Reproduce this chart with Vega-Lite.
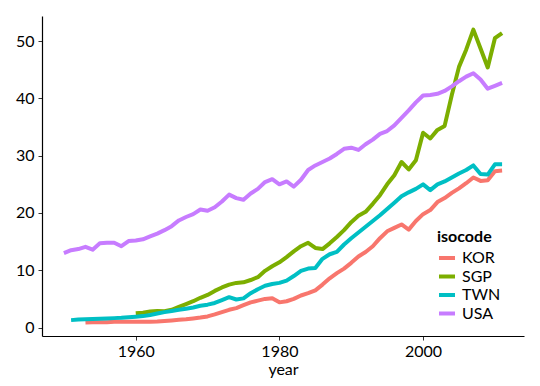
{
  "$schema": "https://vega.github.io/schema/vega-lite/v6.json",
  "width": 482,
  "height": 320,
  "autosize": {"type": "none"},
  "padding": {"left": 42, "top": 16, "right": 16, "bottom": 50},
  "config": {
    "font": "Lato",
    "view": {"stroke": null},
    "axis": {"grid": false, "domainColor": "#000000", "domainWidth": 1.2, "tickColor": "#333333", "tickSize": 4, "labelFontSize": 16, "labelColor": "#000000", "titleFontSize": 16, "titleFontWeight": "normal", "titleColor": "#000000"}
  },
  "datasets": {
    "gdp": [
      {"isocode":"KOR","year":1953,"value":0.9},{"isocode":"KOR","year":1954,"value":0.95},{"isocode":"KOR","year":1955,"value":0.95},{"isocode":"KOR","year":1956,"value":0.95},{"isocode":"KOR","year":1957,"value":1.0},{"isocode":"KOR","year":1958,"value":1.0},{"isocode":"KOR","year":1959,"value":1.0},{"isocode":"KOR","year":1960,"value":1.0},{"isocode":"KOR","year":1961,"value":1.0},{"isocode":"KOR","year":1962,"value":1.0},{"isocode":"KOR","year":1963,"value":1.05},{"isocode":"KOR","year":1964,"value":1.15},{"isocode":"KOR","year":1965,"value":1.25},{"isocode":"KOR","year":1966,"value":1.35},{"isocode":"KOR","year":1967,"value":1.45},{"isocode":"KOR","year":1968,"value":1.6},{"isocode":"KOR","year":1969,"value":1.75},{"isocode":"KOR","year":1970,"value":1.95},{"isocode":"KOR","year":1971,"value":2.3},{"isocode":"KOR","year":1972,"value":2.7},{"isocode":"KOR","year":1973,"value":3.1},{"isocode":"KOR","year":1974,"value":3.4},{"isocode":"KOR","year":1975,"value":3.9},{"isocode":"KOR","year":1976,"value":4.4},{"isocode":"KOR","year":1977,"value":4.7},{"isocode":"KOR","year":1978,"value":5.0},{"isocode":"KOR","year":1979,"value":5.1},{"isocode":"KOR","year":1980,"value":4.4},{"isocode":"KOR","year":1981,"value":4.6},{"isocode":"KOR","year":1982,"value":5.0},{"isocode":"KOR","year":1983,"value":5.6},{"isocode":"KOR","year":1984,"value":6.0},{"isocode":"KOR","year":1985,"value":6.5},{"isocode":"KOR","year":1986,"value":7.5},{"isocode":"KOR","year":1987,"value":8.6},{"isocode":"KOR","year":1988,"value":9.5},{"isocode":"KOR","year":1989,"value":10.3},{"isocode":"KOR","year":1990,"value":11.3},{"isocode":"KOR","year":1991,"value":12.4},{"isocode":"KOR","year":1992,"value":13.2},{"isocode":"KOR","year":1993,"value":14.2},{"isocode":"KOR","year":1994,"value":15.6},{"isocode":"KOR","year":1995,"value":16.8},{"isocode":"KOR","year":1996,"value":17.4},{"isocode":"KOR","year":1997,"value":18.0},{"isocode":"KOR","year":1998,"value":17.1},{"isocode":"KOR","year":1999,"value":18.6},{"isocode":"KOR","year":2000,"value":19.8},{"isocode":"KOR","year":2001,"value":20.5},{"isocode":"KOR","year":2002,"value":21.9},{"isocode":"KOR","year":2003,"value":22.6},{"isocode":"KOR","year":2004,"value":23.5},{"isocode":"KOR","year":2005,"value":24.3},{"isocode":"KOR","year":2006,"value":25.2},{"isocode":"KOR","year":2007,"value":26.2},{"isocode":"KOR","year":2008,"value":25.6},{"isocode":"KOR","year":2009,"value":25.7},{"isocode":"KOR","year":2010,"value":27.3},{"isocode":"KOR","year":2011,"value":27.4},
      {"isocode":"SGP","year":1960,"value":2.5},{"isocode":"SGP","year":1961,"value":2.6},{"isocode":"SGP","year":1962,"value":2.8},{"isocode":"SGP","year":1963,"value":2.9},{"isocode":"SGP","year":1964,"value":2.85},{"isocode":"SGP","year":1965,"value":3.1},{"isocode":"SGP","year":1966,"value":3.6},{"isocode":"SGP","year":1967,"value":4.1},{"isocode":"SGP","year":1968,"value":4.6},{"isocode":"SGP","year":1969,"value":5.2},{"isocode":"SGP","year":1970,"value":5.7},{"isocode":"SGP","year":1971,"value":6.4},{"isocode":"SGP","year":1972,"value":7.0},{"isocode":"SGP","year":1973,"value":7.5},{"isocode":"SGP","year":1974,"value":7.8},{"isocode":"SGP","year":1975,"value":7.9},{"isocode":"SGP","year":1976,"value":8.3},{"isocode":"SGP","year":1977,"value":8.8},{"isocode":"SGP","year":1978,"value":9.9},{"isocode":"SGP","year":1979,"value":10.7},{"isocode":"SGP","year":1980,"value":11.4},{"isocode":"SGP","year":1981,"value":12.3},{"isocode":"SGP","year":1982,"value":13.3},{"isocode":"SGP","year":1983,"value":14.2},{"isocode":"SGP","year":1984,"value":14.8},{"isocode":"SGP","year":1985,"value":13.9},{"isocode":"SGP","year":1986,"value":13.7},{"isocode":"SGP","year":1987,"value":14.7},{"isocode":"SGP","year":1988,"value":15.8},{"isocode":"SGP","year":1989,"value":17.0},{"isocode":"SGP","year":1990,"value":18.4},{"isocode":"SGP","year":1991,"value":19.5},{"isocode":"SGP","year":1992,"value":20.2},{"isocode":"SGP","year":1993,"value":21.6},{"isocode":"SGP","year":1994,"value":23.1},{"isocode":"SGP","year":1995,"value":25.0},{"isocode":"SGP","year":1996,"value":26.6},{"isocode":"SGP","year":1997,"value":28.9},{"isocode":"SGP","year":1998,"value":27.6},{"isocode":"SGP","year":1999,"value":29.2},{"isocode":"SGP","year":2000,"value":34.0},{"isocode":"SGP","year":2001,"value":33.0},{"isocode":"SGP","year":2002,"value":34.5},{"isocode":"SGP","year":2003,"value":35.2},{"isocode":"SGP","year":2004,"value":40.6},{"isocode":"SGP","year":2005,"value":45.5},{"isocode":"SGP","year":2006,"value":48.5},{"isocode":"SGP","year":2007,"value":52.0},{"isocode":"SGP","year":2008,"value":48.7},{"isocode":"SGP","year":2009,"value":45.4},{"isocode":"SGP","year":2010,"value":50.5},{"isocode":"SGP","year":2011,"value":51.4},
      {"isocode":"TWN","year":1951,"value":1.3},{"isocode":"TWN","year":1952,"value":1.4},{"isocode":"TWN","year":1953,"value":1.45},{"isocode":"TWN","year":1954,"value":1.5},{"isocode":"TWN","year":1955,"value":1.55},{"isocode":"TWN","year":1956,"value":1.6},{"isocode":"TWN","year":1957,"value":1.65},{"isocode":"TWN","year":1958,"value":1.7},{"isocode":"TWN","year":1959,"value":1.8},{"isocode":"TWN","year":1960,"value":1.9},{"isocode":"TWN","year":1961,"value":2.0},{"isocode":"TWN","year":1962,"value":2.2},{"isocode":"TWN","year":1963,"value":2.45},{"isocode":"TWN","year":1964,"value":2.7},{"isocode":"TWN","year":1965,"value":2.9},{"isocode":"TWN","year":1966,"value":3.1},{"isocode":"TWN","year":1967,"value":3.3},{"isocode":"TWN","year":1968,"value":3.5},{"isocode":"TWN","year":1969,"value":3.8},{"isocode":"TWN","year":1970,"value":4.0},{"isocode":"TWN","year":1971,"value":4.3},{"isocode":"TWN","year":1972,"value":4.8},{"isocode":"TWN","year":1973,"value":5.3},{"isocode":"TWN","year":1974,"value":4.9},{"isocode":"TWN","year":1975,"value":5.1},{"isocode":"TWN","year":1976,"value":6.0},{"isocode":"TWN","year":1977,"value":6.7},{"isocode":"TWN","year":1978,"value":7.3},{"isocode":"TWN","year":1979,"value":7.6},{"isocode":"TWN","year":1980,"value":7.8},{"isocode":"TWN","year":1981,"value":8.2},{"isocode":"TWN","year":1982,"value":9.0},{"isocode":"TWN","year":1983,"value":9.9},{"isocode":"TWN","year":1984,"value":10.3},{"isocode":"TWN","year":1985,"value":10.4},{"isocode":"TWN","year":1986,"value":12.0},{"isocode":"TWN","year":1987,"value":12.8},{"isocode":"TWN","year":1988,"value":13.2},{"isocode":"TWN","year":1989,"value":14.5},{"isocode":"TWN","year":1990,"value":15.6},{"isocode":"TWN","year":1991,"value":16.6},{"isocode":"TWN","year":1992,"value":17.6},{"isocode":"TWN","year":1993,"value":18.6},{"isocode":"TWN","year":1994,"value":19.6},{"isocode":"TWN","year":1995,"value":20.7},{"isocode":"TWN","year":1996,"value":21.8},{"isocode":"TWN","year":1997,"value":22.9},{"isocode":"TWN","year":1998,"value":23.6},{"isocode":"TWN","year":1999,"value":24.2},{"isocode":"TWN","year":2000,"value":25.0},{"isocode":"TWN","year":2001,"value":24.0},{"isocode":"TWN","year":2002,"value":25.0},{"isocode":"TWN","year":2003,"value":25.5},{"isocode":"TWN","year":2004,"value":26.2},{"isocode":"TWN","year":2005,"value":26.9},{"isocode":"TWN","year":2006,"value":27.5},{"isocode":"TWN","year":2007,"value":28.3},{"isocode":"TWN","year":2008,"value":26.8},{"isocode":"TWN","year":2009,"value":26.7},{"isocode":"TWN","year":2010,"value":28.5},{"isocode":"TWN","year":2011,"value":28.5},
      {"isocode":"USA","year":1950,"value":13.0},{"isocode":"USA","year":1951,"value":13.5},{"isocode":"USA","year":1952,"value":13.7},{"isocode":"USA","year":1953,"value":14.1},{"isocode":"USA","year":1954,"value":13.6},{"isocode":"USA","year":1955,"value":14.7},{"isocode":"USA","year":1956,"value":14.8},{"isocode":"USA","year":1957,"value":14.8},{"isocode":"USA","year":1958,"value":14.2},{"isocode":"USA","year":1959,"value":15.1},{"isocode":"USA","year":1960,"value":15.2},{"isocode":"USA","year":1961,"value":15.4},{"isocode":"USA","year":1962,"value":15.9},{"isocode":"USA","year":1963,"value":16.4},{"isocode":"USA","year":1964,"value":17.0},{"isocode":"USA","year":1965,"value":17.7},{"isocode":"USA","year":1966,"value":18.7},{"isocode":"USA","year":1967,"value":19.3},{"isocode":"USA","year":1968,"value":19.8},{"isocode":"USA","year":1969,"value":20.6},{"isocode":"USA","year":1970,"value":20.4},{"isocode":"USA","year":1971,"value":21.0},{"isocode":"USA","year":1972,"value":22.0},{"isocode":"USA","year":1973,"value":23.2},{"isocode":"USA","year":1974,"value":22.6},{"isocode":"USA","year":1975,"value":22.3},{"isocode":"USA","year":1976,"value":23.4},{"isocode":"USA","year":1977,"value":24.2},{"isocode":"USA","year":1978,"value":25.4},{"isocode":"USA","year":1979,"value":25.9},{"isocode":"USA","year":1980,"value":25.0},{"isocode":"USA","year":1981,"value":25.5},{"isocode":"USA","year":1982,"value":24.6},{"isocode":"USA","year":1983,"value":25.8},{"isocode":"USA","year":1984,"value":27.5},{"isocode":"USA","year":1985,"value":28.3},{"isocode":"USA","year":1986,"value":28.9},{"isocode":"USA","year":1987,"value":29.5},{"isocode":"USA","year":1988,"value":30.3},{"isocode":"USA","year":1989,"value":31.2},{"isocode":"USA","year":1990,"value":31.4},{"isocode":"USA","year":1991,"value":31.0},{"isocode":"USA","year":1992,"value":32.0},{"isocode":"USA","year":1993,"value":32.8},{"isocode":"USA","year":1994,"value":33.8},{"isocode":"USA","year":1995,"value":34.3},{"isocode":"USA","year":1996,"value":35.3},{"isocode":"USA","year":1997,"value":36.6},{"isocode":"USA","year":1998,"value":37.9},{"isocode":"USA","year":1999,"value":39.3},{"isocode":"USA","year":2000,"value":40.5},{"isocode":"USA","year":2001,"value":40.6},{"isocode":"USA","year":2002,"value":40.8},{"isocode":"USA","year":2003,"value":41.3},{"isocode":"USA","year":2004,"value":42.1},{"isocode":"USA","year":2005,"value":43.0},{"isocode":"USA","year":2006,"value":43.8},{"isocode":"USA","year":2007,"value":44.4},{"isocode":"USA","year":2008,"value":43.3},{"isocode":"USA","year":2009,"value":41.7},{"isocode":"USA","year":2010,"value":42.2},{"isocode":"USA","year":2011,"value":42.7}
    ]
  },
  "data": {"name": "gdp"},
  "mark": {"type": "line", "strokeWidth": 4, "strokeCap": "butt", "strokeJoin": "round"},
  "encoding": {
    "x": {
      "field": "year", "type": "quantitative",
      "scale": {"domain": [1946.95, 2014.05], "nice": false, "zero": false},
      "axis": {"values": [1960, 1980, 2000], "format": "d", "title": "year", "labelPadding": 3, "titlePadding": 2}
    },
    "y": {
      "field": "value", "type": "quantitative",
      "scale": {"domain": [-1.47, 54.38], "nice": false, "zero": false},
      "axis": {"values": [0, 10, 20, 30, 40, 50], "title": null, "labelPadding": 4}
    },
    "color": {
      "field": "isocode", "type": "nominal",
      "scale": {"domain": ["KOR", "SGP", "TWN", "USA"], "range": ["#F8766D", "#7CAE00", "#00BFC4", "#C77CFF"]},
      "legend": {
        "title": "isocode", "orient": "none", "legendX": 395, "legendY": 213,
        "titleFontSize": 16, "titleFontWeight": "bold", "titleColor": "#000000", "titlePadding": 3,
        "labelFontSize": 16, "labelColor": "#000000", "labelOffset": 5,
        "symbolType": "stroke", "symbolStrokeWidth": 4, "symbolSize": 256, "rowPadding": 0.5
      }
    }
  }
}
